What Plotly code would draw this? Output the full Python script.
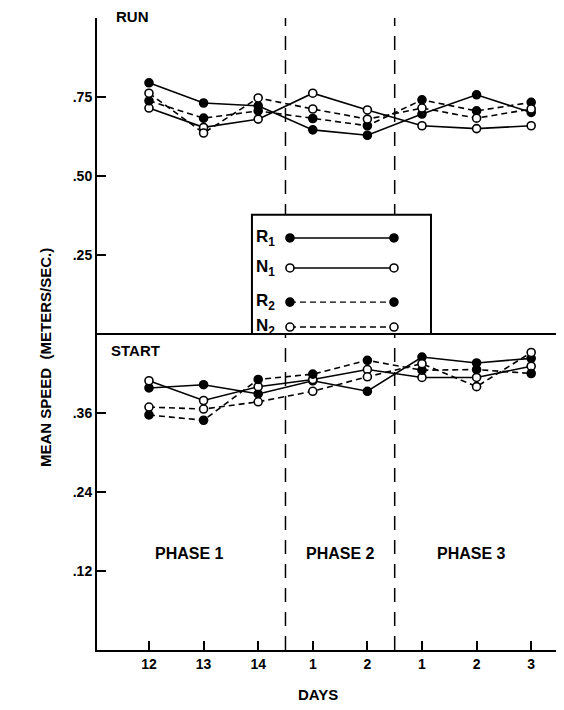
import plotly.graph_objects as go

# ---- data ----
day_labels = ["12", "13", "14", "1", "2", "1", "2", "3"]
x_idx = list(range(len(day_labels)))

run_R1 = [0.795, 0.731, 0.722, 0.646, 0.629, 0.696, 0.757, 0.701]
run_N1 = [0.715, 0.654, 0.680, 0.762, 0.709, 0.659, 0.650, 0.659]
run_R2 = [0.738, 0.683, 0.706, 0.682, 0.659, 0.741, 0.706, 0.733]
run_N2 = [0.762, 0.636, 0.747, 0.712, 0.680, 0.715, 0.683, 0.712]

start_R1 = [0.398, 0.403, 0.389, 0.409, 0.393, 0.445, 0.436, 0.443]
start_N1 = [0.409, 0.379, 0.400, 0.411, 0.426, 0.414, 0.414, 0.431]
start_R2 = [0.357, 0.349, 0.411, 0.419, 0.440, 0.425, 0.426, 0.420]
start_N2 = [0.369, 0.366, 0.377, 0.393, 0.415, 0.435, 0.400, 0.452]

run_ticks = [0.25, 0.50, 0.75]
run_ticktext = [".25", ".50", ".75"]
start_ticks = [0.12, 0.24, 0.36]
start_ticktext = [".12", ".24", ".36"]

series_names = ["R<sub>1</sub>", "N<sub>1</sub>", "R<sub>2</sub>", "N<sub>2</sub>"]
phase_labels = ["PHASE 1", "PHASE 2", "PHASE 3"]
phase_centers = [0.75, 3.5, 5.9]
phase_breaks = [2.5, 4.5]

# ---- style ----
FONT = "Liberation Sans"
OFF = 8  # page body margin
W, H = 564 - 2 * OFF, 710 - 2 * OFF
# screen-pixel plot area
SX0, SX1, SY0, SY1 = 97, 556, 18, 650
L, R = SX0 - OFF, W - (SX1 - OFF)
T, B = SY0 - OFF, H - (SY1 - OFF)
PW, PH = SX1 - SX0, SY1 - SY0

def px(xs):
    return (xs - SX0) / PW

def py(ys):
    return (SY1 - ys) / PH

styles = [
    dict(fill="black", dash="solid"),
    dict(fill="white", dash="solid"),
    dict(fill="black", dash="6px,4px"),
    dict(fill="white", dash="6px,4px"),
]

fig = go.Figure()

def add_series(yvals, st, yaxis):
    fig.add_trace(go.Scatter(
        x=x_idx, y=yvals, mode="lines+markers", yaxis=yaxis, showlegend=False,
        line=dict(color="black", width=1.6, dash=st["dash"]),
        marker=dict(size=8, color=st["fill"], line=dict(color="black", width=1.6)),
        hoverinfo="skip",
    ))

for ys, st in zip([run_R1, run_N1, run_R2, run_N2], styles):
    add_series(ys, st, "y2")
for ys, st in zip([start_R1, start_N1, start_R2, start_N2], styles):
    add_series(ys, st, "y")

# ---- custom legend box (in top panel) ----
leg_x0, leg_x1 = 1.886, 5.165
leg_y1 = 0.377
leg_rows = [0.304, 0.209, 0.101, 0.022]
leg_mx = [2.582, 4.487]

shapes = []
for xb in phase_breaks:
    shapes.append(dict(type="line", xref="x", yref="paper", x0=xb, x1=xb, y0=0, y1=1,
                       line=dict(color="black", width=1.5, dash="14px,10px"), layer="below"))
shapes.append(dict(type="rect", xref="x", yref="y2", x0=leg_x0, x1=leg_x1, y0=0, y1=leg_y1,
                   fillcolor="white", line=dict(color="black", width=2), layer="below"))
shapes.append(dict(type="line", xref="paper", yref="paper", x0=0, x1=1, y0=0.5, y1=0.5,
                   line=dict(color="black", width=2), layer="above"))

for name, yr, st in zip(series_names, leg_rows, styles):
    fig.add_trace(go.Scatter(
        x=leg_mx, y=[yr, yr], mode="lines+markers", yaxis="y2", showlegend=False,
        line=dict(color="black", width=1.4, dash=st["dash"]),
        marker=dict(size=8, color=st["fill"], line=dict(color="black", width=1.6)),
        hoverinfo="skip",
    ))

annotations = []
for name, yr in zip(series_names, leg_rows):
    annotations.append(dict(x=1.93, y=yr, xref="x", yref="y2", text="<b>" + name + "</b>",
                            showarrow=False, xanchor="left", yanchor="middle",
                            font=dict(family=FONT, size=17, color="black")))

annotations.append(dict(x=px(114), y=py(17), xref="paper", yref="paper", text="<b>RUN</b>",
                        showarrow=False, xanchor="left", yanchor="middle",
                        font=dict(family=FONT, size=15, color="black")))
annotations.append(dict(x=px(109), y=py(351), xref="paper", yref="paper", text="<b>START</b>",
                        showarrow=False, xanchor="left", yanchor="middle",
                        font=dict(family=FONT, size=15, color="black")))
for lab, xc in zip(phase_labels, phase_centers):
    annotations.append(dict(x=xc, y=py(553), xref="x", yref="paper", text="<b>" + lab + "</b>",
                            showarrow=False, xanchor="center", yanchor="middle",
                            font=dict(family=FONT, size=16, color="black")))
annotations.append(dict(x=px(45), y=py(358), xref="paper", yref="paper",
                        text="<b>MEAN SPEED  (METERS/SEC.)</b>", textangle=-90,
                        showarrow=False, xanchor="center", yanchor="middle",
                        font=dict(family=FONT, size=15, color="black")))
annotations.append(dict(x=px(318), y=py(694), xref="paper", yref="paper", text="<b>DAYS</b>",
                        showarrow=False, xanchor="center", yanchor="middle",
                        font=dict(family=FONT, size=15, color="black")))

tickfont = dict(family=FONT, size=14, color="black", weight="bold")

fig.update_layout(
    width=W, height=H,
    margin=dict(l=L, r=R, t=T, b=B, pad=0),
    paper_bgcolor="white", plot_bgcolor="white",
    showlegend=False,
    xaxis=dict(range=[-0.952, -0.952 + PW / 54.6], tickvals=x_idx, ticktext=day_labels,
               ticks="inside", ticklen=9, tickwidth=2, tickcolor="black",
               showline=True, linecolor="black", linewidth=2, showgrid=False, zeroline=False,
               tickfont=tickfont, anchor="y"),
    yaxis=dict(domain=[0, 0.5], range=[0, 0.48], tickvals=start_ticks, ticktext=start_ticktext,
               ticks="inside", ticklen=9, tickwidth=2, tickcolor="black",
               showline=True, linecolor="black", linewidth=2, showgrid=False, zeroline=False,
               tickfont=tickfont, anchor="x"),
    yaxis2=dict(domain=[0.5, 1], range=[0, 1.0], tickvals=run_ticks, ticktext=run_ticktext,
                ticks="inside", ticklen=9, tickwidth=2, tickcolor="black",
                showline=True, linecolor="black", linewidth=2, showgrid=False, zeroline=False,
                tickfont=tickfont, anchor="x"),
    shapes=shapes,
    annotations=annotations,
)

fig.write_html("out.html")
